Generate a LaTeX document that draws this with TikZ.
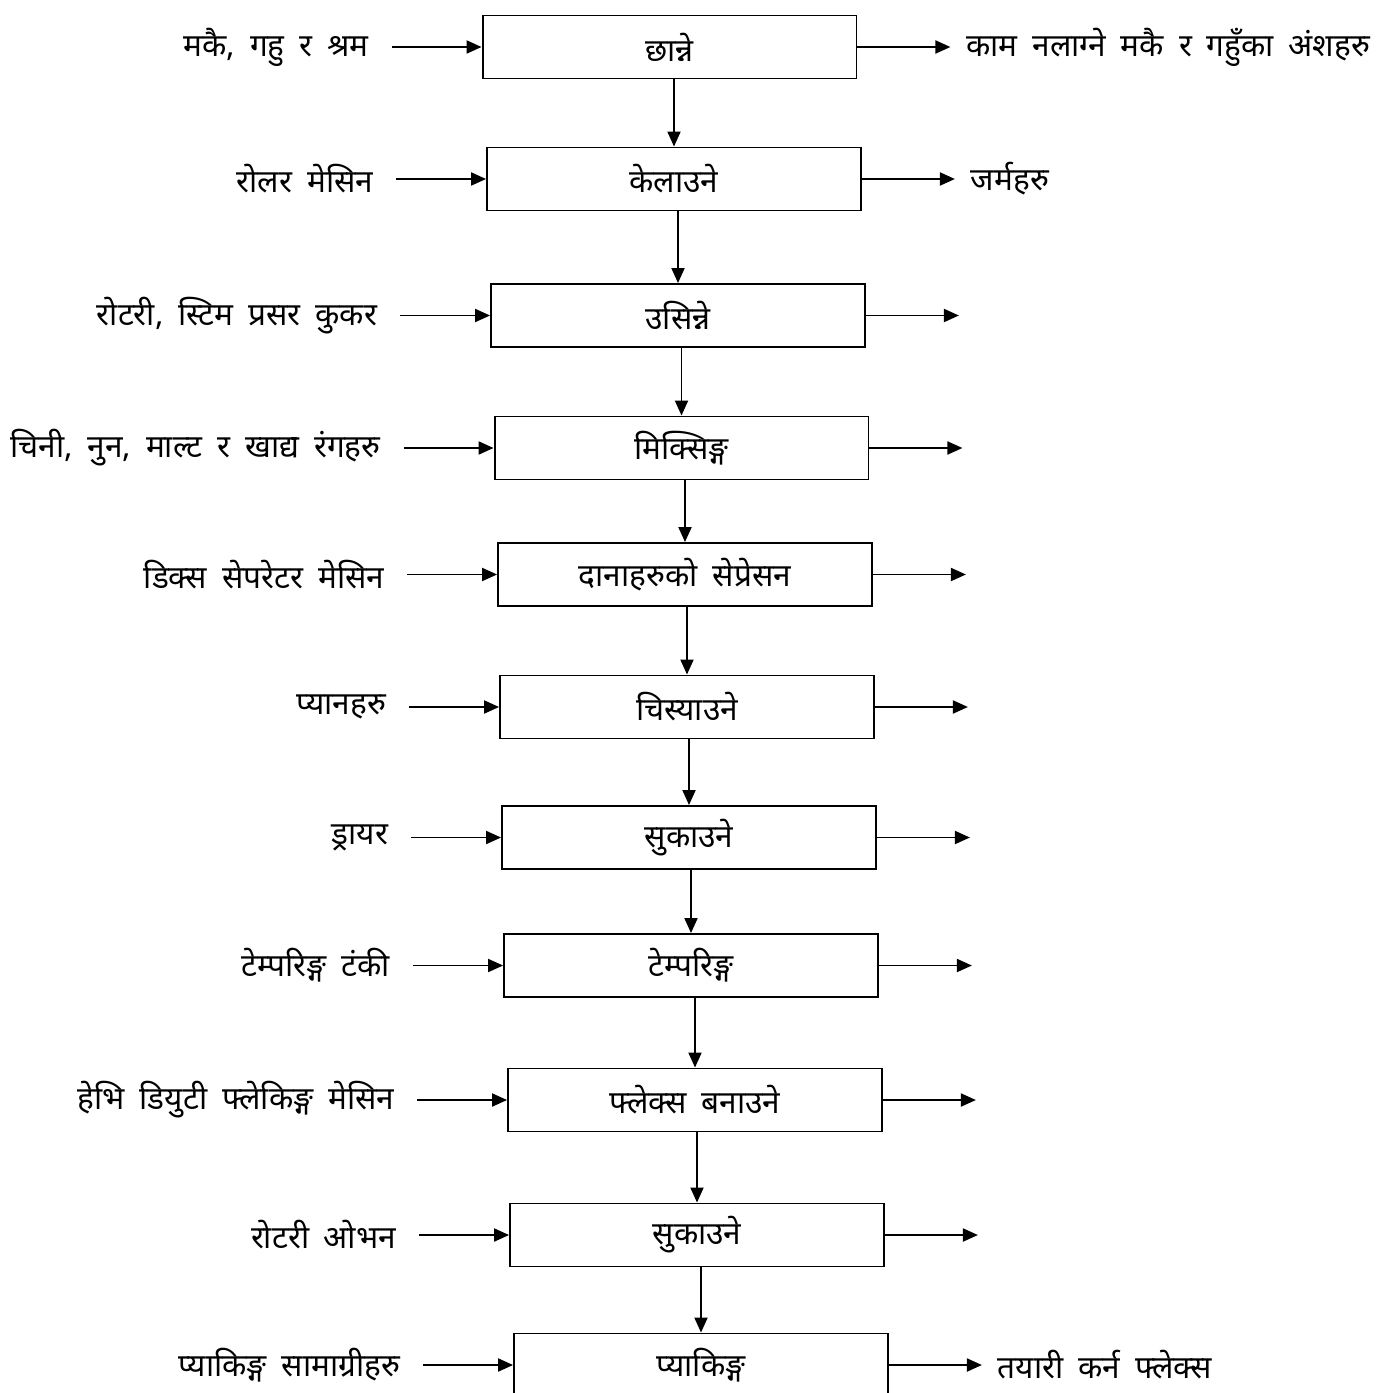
\documentclass[tikz,border=0pt]{standalone}
\usepackage{fontspec}
\setmainfont[Script=Devanagari, WordSpace=1.8]{Noto Sans}
\usetikzlibrary{arrows.meta}
\usetikzlibrary{positioning}

\begin{document}
\begin{tikzpicture}[x = 0.02cm, y = -0.02cm, font = \fontsize{18}{22}\selectfont, line width = 1.1pt]
	\tikzstyle{stepStyle} = [shape = rectangle, draw, minimum width = 7.48cm, minimum height = 1.26cm, inner sep = 0pt]
	\tikzstyle{inStyle} = [inner xsep = 0.44cm, inner ysep = 0pt]
	\tikzstyle{outStyle} = [inner xsep = 0.3cm, inner ysep = 0pt]
	\tikzstyle{flowStyle} = [-{Triangle[length = 0.3cm, width = 0.26cm]}]
	\useasboundingbox (0, 0) rectangle (1385, 1393);
	% process steps
	\node[stepStyle] (s1) at (669.5, 47) {छान्ने};
	\node[stepStyle] (s2) at (674, 179) {केलाउने};
	\node[stepStyle] (s3) at (678, 315.5) {उसिन्ने};
	\node[stepStyle] (s4) at (681.5, 448) {मिक्सिङ्ग};
	\node[stepStyle] (s5) at (685, 574.5) {दानाहरुको सेप्रेसन};
	\node[stepStyle] (s6) at (687, 707) {चिस्याउने};
	\node[stepStyle] (s7) at (689, 837.5) {सुकाउने};
	\node[stepStyle] (s8) at (691, 965.5) {टेम्परिङ्ग};
	\node[stepStyle] (s9) at (695, 1100) {फ्लेक्स बनाउने};
	\node[stepStyle] (s10) at (697, 1235) {सुकाउने};
	\node[stepStyle] (s11) at (701, 1365) {प्याकिङ्ग};
	% inputs
	\node[inStyle, left = 1.8cm of s1] (i1) {मकै, गहु र श्रम};
	\node[inStyle, left = 1.8cm of s2] (i2) {रोलर मेसिन};
	\node[inStyle, left = 1.8cm of s3] (i3) {रोटरी, स्टिम प्रसर कुकर};
	\node[inStyle, left = 1.8cm of s4] (i4) {चिनी, नुन, माल्ट र खाद्य रंगहरु};
	\node[inStyle, left = 1.8cm of s5] (i5) {डिक्स सेपरेटर मेसिन};
	\node[inStyle, left = 1.8cm of s6] (i6) {प्यानहरु};
	\node[inStyle, left = 1.8cm of s7] (i7) {ड्रायर};
	\node[inStyle, left = 1.8cm of s8] (i8) {टेम्परिङ्ग टंकी};
	\node[inStyle, left = 1.8cm of s9] (i9) {हेभि डियुटी फ्लेकिङ्ग मेसिन};
	\node[inStyle, left = 1.8cm of s10] (i10) {रोटरी ओभन};
	\node[inStyle, left = 1.8cm of s11] (i11) {प्याकिङ्ग सामाग्रीहरु};
	% outputs
	\node[outStyle, right = 1.86cm of s1] (o1) {काम नलाग्ने मकै र गहुँका अंशहरु};
	\node[outStyle, right = 1.86cm of s2] (o2) {जर्महरु};
	\coordinate[right = 1.86cm of s3] (o3);
	\coordinate[right = 1.86cm of s4] (o4);
	\coordinate[right = 1.86cm of s5] (o5);
	\coordinate[right = 1.86cm of s6] (o6);
	\coordinate[right = 1.86cm of s7] (o7);
	\coordinate[right = 1.86cm of s8] (o8);
	\coordinate[right = 1.86cm of s9] (o9);
	\coordinate[right = 1.86cm of s10] (o10);
	\node[outStyle, right = 1.86cm of s11] (o11) {तयारी कर्न फ्लेक्स};
	% arrows
	\foreach \n in {1, ..., 11} {
		\draw[flowStyle] (i\n) -- (s\n);
		\draw[flowStyle] (s\n) -- (o\n);
	}
	\foreach \a/\b in {1/2, 2/3, 3/4, 4/5, 5/6, 6/7, 7/8, 8/9, 9/10, 10/11}
		\draw[flowStyle] (s\a.south -| s\b.north) -- (s\b.north);
\end{tikzpicture}
\end{document}
